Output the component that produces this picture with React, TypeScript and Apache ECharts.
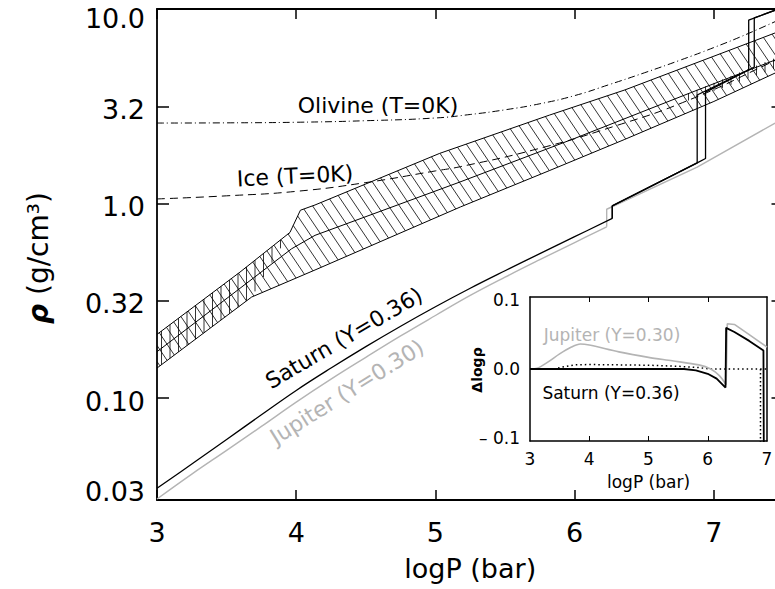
import React, { useEffect, useRef } from "react";
import * as echarts from "echarts";

const FONT = "DejaVu Sans";

// ---- axis ticks / labels ----
const xTicks = [3, 4, 5, 6, 7];
const yTickValues = [-1.523, -1, -0.5, 0, 0.5, 1];
const yTickLabels = ["0.03", "0.10", "0.32", "1.0", "3.2", "10.0"];
const insetXTicks = [3, 4, 5, 6, 7];
const insetXInnerTicks = [4, 5, 6];
const insetYTickValues = [-0.1, 0, 0.1];
const insetYTickLabels = ["– 0.1", "0.0", "0.1"];

// ---- main panel: logP (bar) vs log10 rho (g/cm^3) ----
const olivine = [[3.0, 0.414], [3.5, 0.415], [4.0, 0.418], [4.5, 0.426], [5.0, 0.44], [5.25, 0.458], [5.5, 0.482], [5.75, 0.513], [6.0, 0.555], [6.25, 0.612], [6.5, 0.672], [6.75, 0.735], [7.0, 0.802], [7.25, 0.875], [7.5, 0.955]];
const ice = [[3.0, 0.024], [3.5, 0.04], [4.0, 0.063], [4.5, 0.108], [5.0, 0.168], [5.18, 0.19], [5.7, 0.275], [6.27, 0.394], [6.82, 0.532], [7.4, 0.722], [7.5, 0.76]];
const bandTop = [[3.0, -0.672], [3.596, -0.352], [3.955, -0.148], [4.03, -0.034], [4.135, -0.007], [5.03, 0.258], [5.82, 0.455], [6.36, 0.584], [7.44, 0.877], [7.5, 0.893]];
const bandBottom = [[3.0, -0.845], [3.68, -0.48], [4.135, -0.341], [5.18, -0.017], [5.82, 0.17], [6.36, 0.33], [7.0, 0.525], [7.44, 0.671], [7.5, 0.69]];
const bandMiddle = [[3.0, -0.761], [3.56, -0.455], [3.967, -0.232], [4.135, -0.163], [5.176, 0.111], [6.0, 0.335], [6.83, 0.569], [7.44, 0.738], [7.5, 0.755]];
const crossUpper = [[3.0, -0.672], [3.596, -0.352], [3.955, -0.148]];
const crossLower = [[3.0, -0.845], [3.68, -0.48]];
const subUpper = [[6.8, 0.562], [7.37, 0.728], [7.5, 0.765]];
const subLower = [[6.8, 0.525], [7.37, 0.676], [7.5, 0.712]];
// Saturn (Y=0.36): smooth low-pressure part, then two variants with jumps
const saturnLow = [[3.0, -1.463], [3.25, -1.338], [3.5, -1.212], [3.75, -1.085], [4.0, -0.96], [4.25, -0.845], [4.5, -0.735], [4.75, -0.63], [5.0, -0.53], [5.25, -0.435], [5.5, -0.345], [5.75, -0.257], [6.0, -0.17], [6.27, -0.076]];
const saturnHighA = [[6.27, -0.076], [6.27, -0.012], [6.88, 0.209], [6.88, 0.558], [7.25, 0.687], [7.25, 0.943], [7.5, 1.01]];
const saturnHighB = [[6.27, -0.076], [6.27, -0.012], [6.88, 0.209], [6.94, 0.232], [6.94, 0.573], [7.29, 0.702], [7.29, 0.954], [7.5, 1.01]];
// Jupiter (Y=0.30)
const jupiterLow = [[3.0, -1.518], [3.25, -1.39], [3.5, -1.268], [3.75, -1.145], [4.0, -1.02], [4.25, -0.902], [4.5, -0.79], [4.75, -0.68], [5.0, -0.575], [5.25, -0.472], [5.5, -0.378], [5.75, -0.288], [6.0, -0.2], [6.23, -0.119]];
const jupiterHigh = [[6.23, -0.119], [6.23, -0.029], [6.88, 0.188], [7.44, 0.414], [7.5, 0.44]];

// ---- inset: delta log rho ----
const insetJupiterLow = [[3.0, 0], [3.12, 0.001], [3.3, 0.01], [3.5, 0.022], [3.7, 0.032], [3.85, 0.0365], [4.0, 0.035], [4.5, 0.025], [5.0, 0.017], [5.4, 0.012], [5.85, 0.006], [6.05, 0.0], [6.2, -0.01], [6.31, -0.023]];
const insetJupiterHigh = [[6.31, -0.023], [6.33, 0.066], [6.45, 0.065], [6.7, 0.05], [7.0, 0.032]];
const insetSaturn = [[3.0, 0], [5.6, 0], [5.8, -0.002], [6.0, -0.007], [6.15, -0.014], [6.3, -0.027], [6.31, 0.06], [6.45, 0.054], [6.7, 0.041], [6.94, 0.027], [6.95, -0.2]];
const insetDotted = [[3.4, 0], [3.55, 0.003], [3.75, 0.006], [4.0, 0.0065], [4.5, 0.006], [5.0, 0.0055], [5.5, 0.004], [5.85, 0.002], [6.05, 0], [7.0, 0]];
const insetDottedDrop = [[6.89, 0], [6.89, -0.2]];

function hatchSegments(poly: number[][], angleDeg: number, spacing: number) {
  const a = (angleDeg * Math.PI) / 180;
  const dx = Math.cos(a), dy = Math.sin(a);
  const nx = -dy, ny = dx;
  let cmin = Infinity, cmax = -Infinity;
  for (const p of poly) {
    const c = nx * p[0] + ny * p[1];
    cmin = Math.min(cmin, c);
    cmax = Math.max(cmax, c);
  }
  const segs: number[][][] = [];
  for (let c = Math.ceil(cmin / spacing) * spacing; c <= cmax; c += spacing) {
    const pts: number[][] = [];
    for (let i = 0; i < poly.length; i++) {
      const p = poly[i], q = poly[(i + 1) % poly.length];
      const fp = nx * p[0] + ny * p[1] - c;
      const fq = nx * q[0] + ny * q[1] - c;
      if ((fp < 0) !== (fq < 0)) {
        const t = fp / (fp - fq);
        pts.push([p[0] + t * (q[0] - p[0]), p[1] + t * (q[1] - p[1])]);
      }
    }
    pts.sort((u, v) => dx * u[0] + dy * u[1] - (dx * v[0] + dy * v[1]));
    for (let k = 0; k + 1 < pts.length; k += 2) segs.push([pts[k], pts[k + 1]]);
  }
  return segs;
}

function hatchSeries(upper: number[][], lower: number[][], angle: number, spacing: number) {
  return {
    type: "custom",
    xAxisIndex: 0,
    yAxisIndex: 0,
    clip: true,
    silent: true,
    z: 1,
    data: [[upper[0][0], upper[0][1]]],
    renderItem: (_params: any, api: any) => {
      const poly = [...upper, ...lower.slice().reverse()].map((d) => api.coord(d));
      const segs = hatchSegments(poly, angle, spacing);
      return {
        type: "group",
        children: segs.map((s) => ({
          type: "line",
          shape: { x1: s[0][0], y1: s[0][1], x2: s[1][0], y2: s[1][1] },
          style: { stroke: "#000", lineWidth: 0.8 },
        })),
      };
    },
  };
}

function lineSeries(data: number[][], color: string, width: number, type: any, xi: number, yi: number, z = 3, smooth: any = false) {
  return {
    type: "line",
    xAxisIndex: xi,
    yAxisIndex: yi,
    data,
    showSymbol: false,
    symbol: "none",
    silent: true,
    smooth,
    z,
    lineStyle: { color, width, type },
  };
}

const near = (a: number, b: number) => Math.abs(a - b) < 1e-6;

export default function App() {
  const ref = useRef<HTMLDivElement>(null);
  useEffect(() => {
    document.body.style.margin = "0";
    const chart = echarts.init(ref.current!, null, { renderer: "svg" });
    const axisLine = { show: true, onZero: false, lineStyle: { color: "#000", width: 1.8 } };
    const insetLine = { show: true, onZero: false, lineStyle: { color: "#000", width: 1.5 } };
    const tickStyle = { color: "#000", width: 1.5 };
    const option: any = {
      animation: false,
      backgroundColor: "#fff",
      textStyle: { fontFamily: FONT },
      grid: [
        { left: 157, top: 9, width: 626.5, height: 491 },
        { left: 530, top: 297, width: 237, height: 144 },
      ],
      xAxis: [
        {
          gridIndex: 0, type: "value", min: 3, max: 7.5, position: "bottom",
          axisLine, splitLine: { show: false },
          axisTick: { show: true, inside: true, length: 10, customValues: xTicks, lineStyle: tickStyle },
          axisLabel: { show: true, customValues: xTicks, fontSize: 27, color: "#000", margin: 19, fontFamily: FONT },
          name: "logP (bar)", nameLocation: "middle", nameGap: 55,
          nameTextStyle: { fontSize: 27, color: "#000", fontFamily: FONT },
        },
        {
          gridIndex: 0, type: "value", min: 3, max: 7.5, position: "top",
          axisLine, splitLine: { show: false },
          axisTick: { show: true, inside: true, length: 10, customValues: xTicks, lineStyle: tickStyle },
          axisLabel: { show: false },
        },
        {
          gridIndex: 1, type: "value", min: 3, max: 7, position: "bottom",
          axisLine: insetLine, splitLine: { show: false },
          axisTick: { show: true, inside: true, length: 5, customValues: insetXInnerTicks, lineStyle: { color: "#000", width: 1 } },
          axisLabel: { show: true, customValues: insetXTicks, fontSize: 17, color: "#000", margin: 9, fontFamily: FONT },
          name: "logP (bar)", nameLocation: "middle", nameGap: 32,
          nameTextStyle: { fontSize: 17, color: "#000", fontFamily: FONT },
        },
        {
          gridIndex: 1, type: "value", min: 3, max: 7, position: "top",
          axisLine: insetLine, splitLine: { show: false },
          axisTick: { show: true, inside: true, length: 5, customValues: insetXInnerTicks, lineStyle: { color: "#000", width: 1 } },
          axisLabel: { show: false },
        },
      ],
      yAxis: [
        {
          gridIndex: 0, type: "value", min: -1.523, max: 1, position: "left",
          axisLine, splitLine: { show: false },
          axisTick: { show: true, inside: true, length: 12, customValues: yTickValues, lineStyle: tickStyle },
          axisLabel: {
            show: true, customValues: yTickValues, margin: 12, color: "#000", fontSize: 27, fontFamily: FONT,
            formatter: (v: number) => {
              const i = yTickValues.findIndex((t) => near(t, v));
              const s = i >= 0 ? yTickLabels[i] : "";
              if (near(v, 1)) return "{t|" + s + "}";
              if (near(v, -1.523)) return "{b|" + s + "}";
              return "{m|" + s + "}";
            },
            rich: {
              t: { fontSize: 27, fontFamily: FONT, color: "#000", padding: [18, 0, 0, 0] },
              b: { fontSize: 27, fontFamily: FONT, color: "#000", padding: [0, 0, 18, 0] },
              m: { fontSize: 27, fontFamily: FONT, color: "#000", padding: [6, 0, 0, 0] },
            },
          },
        },
        {
          gridIndex: 0, type: "value", min: -1.523, max: 1, position: "right",
          axisLine, splitLine: { show: false },
          axisTick: { show: true, inside: true, length: 12, customValues: yTickValues, lineStyle: tickStyle },
          axisLabel: { show: false },
        },
        {
          gridIndex: 1, type: "value", min: -0.105, max: 0.105, position: "left",
          axisLine: insetLine, splitLine: { show: false },
          axisTick: { show: false },
          axisLabel: {
            show: true, customValues: insetYTickValues, margin: 10, color: "#000", fontSize: 17, fontFamily: FONT,
            formatter: (v: number) => {
              const i = insetYTickValues.findIndex((t) => near(t, v));
              return i >= 0 ? insetYTickLabels[i] : "";
            },
          },
        },
        {
          gridIndex: 1, type: "value", min: -0.105, max: 0.105, position: "right",
          axisLine: insetLine, splitLine: { show: false },
          axisTick: { show: false }, axisLabel: { show: false },
        },
      ],
      series: [
        hatchSeries(bandTop, bandBottom, 56, 9),
        hatchSeries(crossUpper, crossLower, 90, 8.5),
        hatchSeries(subUpper, subLower, 90, 8.5),
        lineSeries(bandTop, "#000", 1, "solid", 0, 0),
        lineSeries(bandBottom, "#000", 1, "solid", 0, 0),
        lineSeries(bandMiddle, "#000", 1, "solid", 0, 0),
        lineSeries(olivine, "#000", 1, [7, 3, 1, 3], 0, 0, 3, true),
        lineSeries(ice, "#000", 1, [8, 5], 0, 0, 3, true),
        lineSeries(jupiterLow, "#b4b4b4", 1.4, "solid", 0, 0, 3, 0.4),
        lineSeries(jupiterHigh, "#b4b4b4", 1.4, "solid", 0, 0),
        lineSeries(saturnLow, "#000", 1.3, "solid", 0, 0, 4, 0.4),
        lineSeries(saturnHighA, "#000", 1.3, "solid", 0, 0, 4),
        lineSeries(saturnHighB, "#000", 1.3, "solid", 0, 0, 4),
        lineSeries(insetDotted, "#000", 1.5, [1.5, 3], 2, 2),
        lineSeries(insetDottedDrop, "#000", 1.5, [1.5, 2.5], 2, 2),
        lineSeries(insetJupiterLow, "#b4b4b4", 1.6, "solid", 2, 2, 3, 0.3),
        lineSeries(insetJupiterHigh, "#b4b4b4", 1.6, "solid", 2, 2),
        lineSeries(insetSaturn, "#000", 1.8, "solid", 2, 2, 4),
      ],
      graphic: [
        { type: "text", x: 378, y: 105, style: { text: "Olivine (T=0K)", fontSize: 22, fontFamily: FONT, fill: "#000", align: "center", verticalAlign: "middle" } },
        { type: "text", x: 295, y: 176, rotation: 0.05, style: { text: "Ice (T=0K)", fontSize: 22, fontFamily: FONT, fill: "#000", align: "center", verticalAlign: "middle" } },
        { type: "text", x: 344, y: 338, rotation: 0.53, style: { text: "Saturn (Y=0.36)", fontSize: 22, fontFamily: FONT, fill: "#000", align: "center", verticalAlign: "middle" } },
        { type: "text", x: 347, y: 392, rotation: 0.56, style: { text: "Jupiter (Y=0.30)", fontSize: 22, fontFamily: FONT, fill: "#b4b4b4", align: "center", verticalAlign: "middle" } },
        { type: "text", x: 612, y: 335, style: { text: "Jupiter (Y=0.30)", fontSize: 17, fontFamily: FONT, fill: "#b4b4b4", align: "center", verticalAlign: "middle" } },
        { type: "text", x: 611, y: 393, style: { text: "Saturn (Y=0.36)", fontSize: 17, fontFamily: FONT, fill: "#000", align: "center", verticalAlign: "middle" } },
        {
          type: "text", x: 38, y: 258, rotation: Math.PI / 2,
          style: {
            text: "{i|ρ} (g/cm³)", fontSize: 28, fontFamily: FONT, fill: "#000", align: "center", verticalAlign: "middle",
            rich: { i: { fontSize: 28, fontFamily: FONT, fontStyle: "italic", fontWeight: "bold", fill: "#000" } },
          },
        },
        { type: "text", x: 477, y: 370, rotation: Math.PI / 2, style: { text: "Δlogρ", fontSize: 14, fontWeight: "bold", fontFamily: FONT, fill: "#000", align: "center", verticalAlign: "middle" } },
      ],
    };
    chart.setOption(option);
    return () => chart.dispose();
  }, []);
  return (
    <div style={{ width: 775, height: 589, overflow: "hidden", position: "relative", background: "#fff" }}>
      <div ref={ref} style={{ width: 800, height: 589 }} />
    </div>
  );
}
